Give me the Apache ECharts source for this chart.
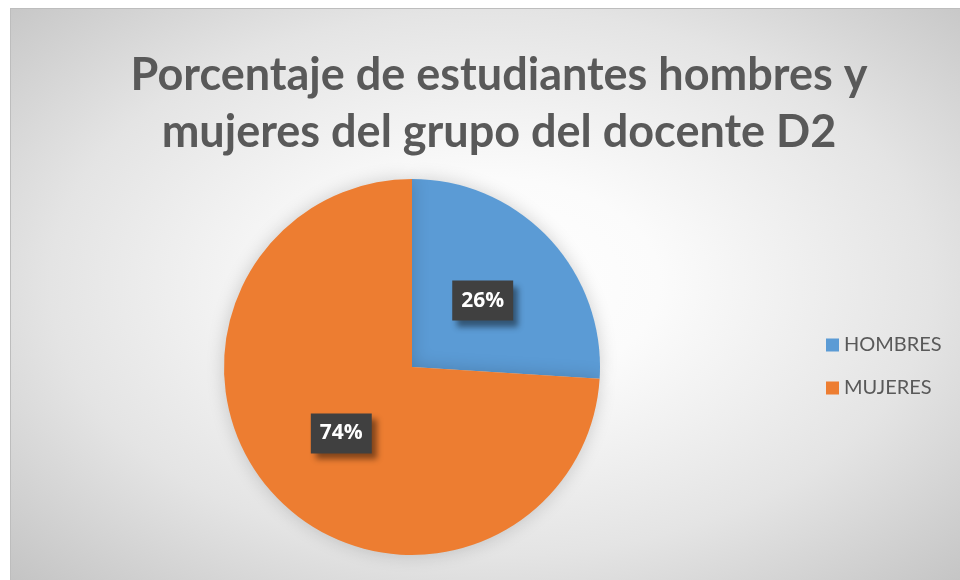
<!DOCTYPE html>
<html lang="es">
<head>
  <meta charset="UTF-8" />
  <title>Porcentaje de estudiantes hombres y mujeres</title>
  <script src="https://cdn.jsdelivr.net/npm/echarts@6/dist/echarts.min.js"></script>
  <style>
    html, body { margin: 0; padding: 0; background: #ffffff; }
    #main {
      position: absolute;
      left: 10px;
      top: 8px;
      width: 960px;
      height: 572px;
      border-top: 1px solid #bdbdbd;
      border-left: 1px solid #bdbdbd;
      box-sizing: border-box;
      background: radial-gradient(ellipse at 50% 48%, #ffffff 0%, #fbfbfb 25%, #e4e4e4 65%, #c4c4c4 100%);
    }
  </style>
</head>
<body>
  <div id="main"></div>
  <script>
    const titleLines = ['Porcentaje de estudiantes hombres y', 'mujeres del grupo del docente D2'];
    const categories = ['HOMBRES', 'MUJERES'];
    const percents = [26, 74];
    const colors = ['#5b9bd5', '#ed7d31'];

    const chart = echarts.init(document.getElementById('main'));

    chart.setOption({
      backgroundColor: 'transparent',
      animation: false,
      title: {
        text: titleLines.join('\n'),
        left: 483,
        top: 33,
        textAlign: 'center',
        textStyle: {
          fontFamily: 'Lato',
          fontWeight: 'bold',
          fontSize: 45,
          lineHeight: 57,
          color: '#595959'
        }
      },
      legend: {
        orient: 'vertical',
        left: 810,
        top: 321,
        itemWidth: 13,
        itemHeight: 13,
        itemGap: 23,
        icon: 'rect',
        data: categories,
        textStyle: {
          fontFamily: 'Lato',
          fontSize: 20,
          color: '#595959'
        }
      },
      series: [{
        type: 'pie',
        center: [401, 358],
        radius: 188,
        startAngle: 90,
        clockwise: true,
        data: categories.map((name, i) => ({
          name: name,
          value: percents[i],
          itemStyle: { color: colors[i] }
        })),
        itemStyle: {
          shadowBlur: 18,
          shadowColor: 'rgba(0,0,0,0.18)'
        },
        label: {
          show: true,
          position: 'inside',
          formatter: p => p.value + '%',
          fontFamily: 'Open Sans',
          fontWeight: 'bold',
          fontSize: 21,
          color: '#ffffff',
          backgroundColor: '#404040',
          padding: [10, 9, 9, 9],
          shadowColor: 'rgba(0,0,0,0.45)',
          shadowBlur: 6,
          shadowOffsetX: 5,
          shadowOffsetY: 6
        },
        labelLine: { show: false },
        emphasis: { disabled: true }
      }]
    });
  </script>
</body>
</html>
